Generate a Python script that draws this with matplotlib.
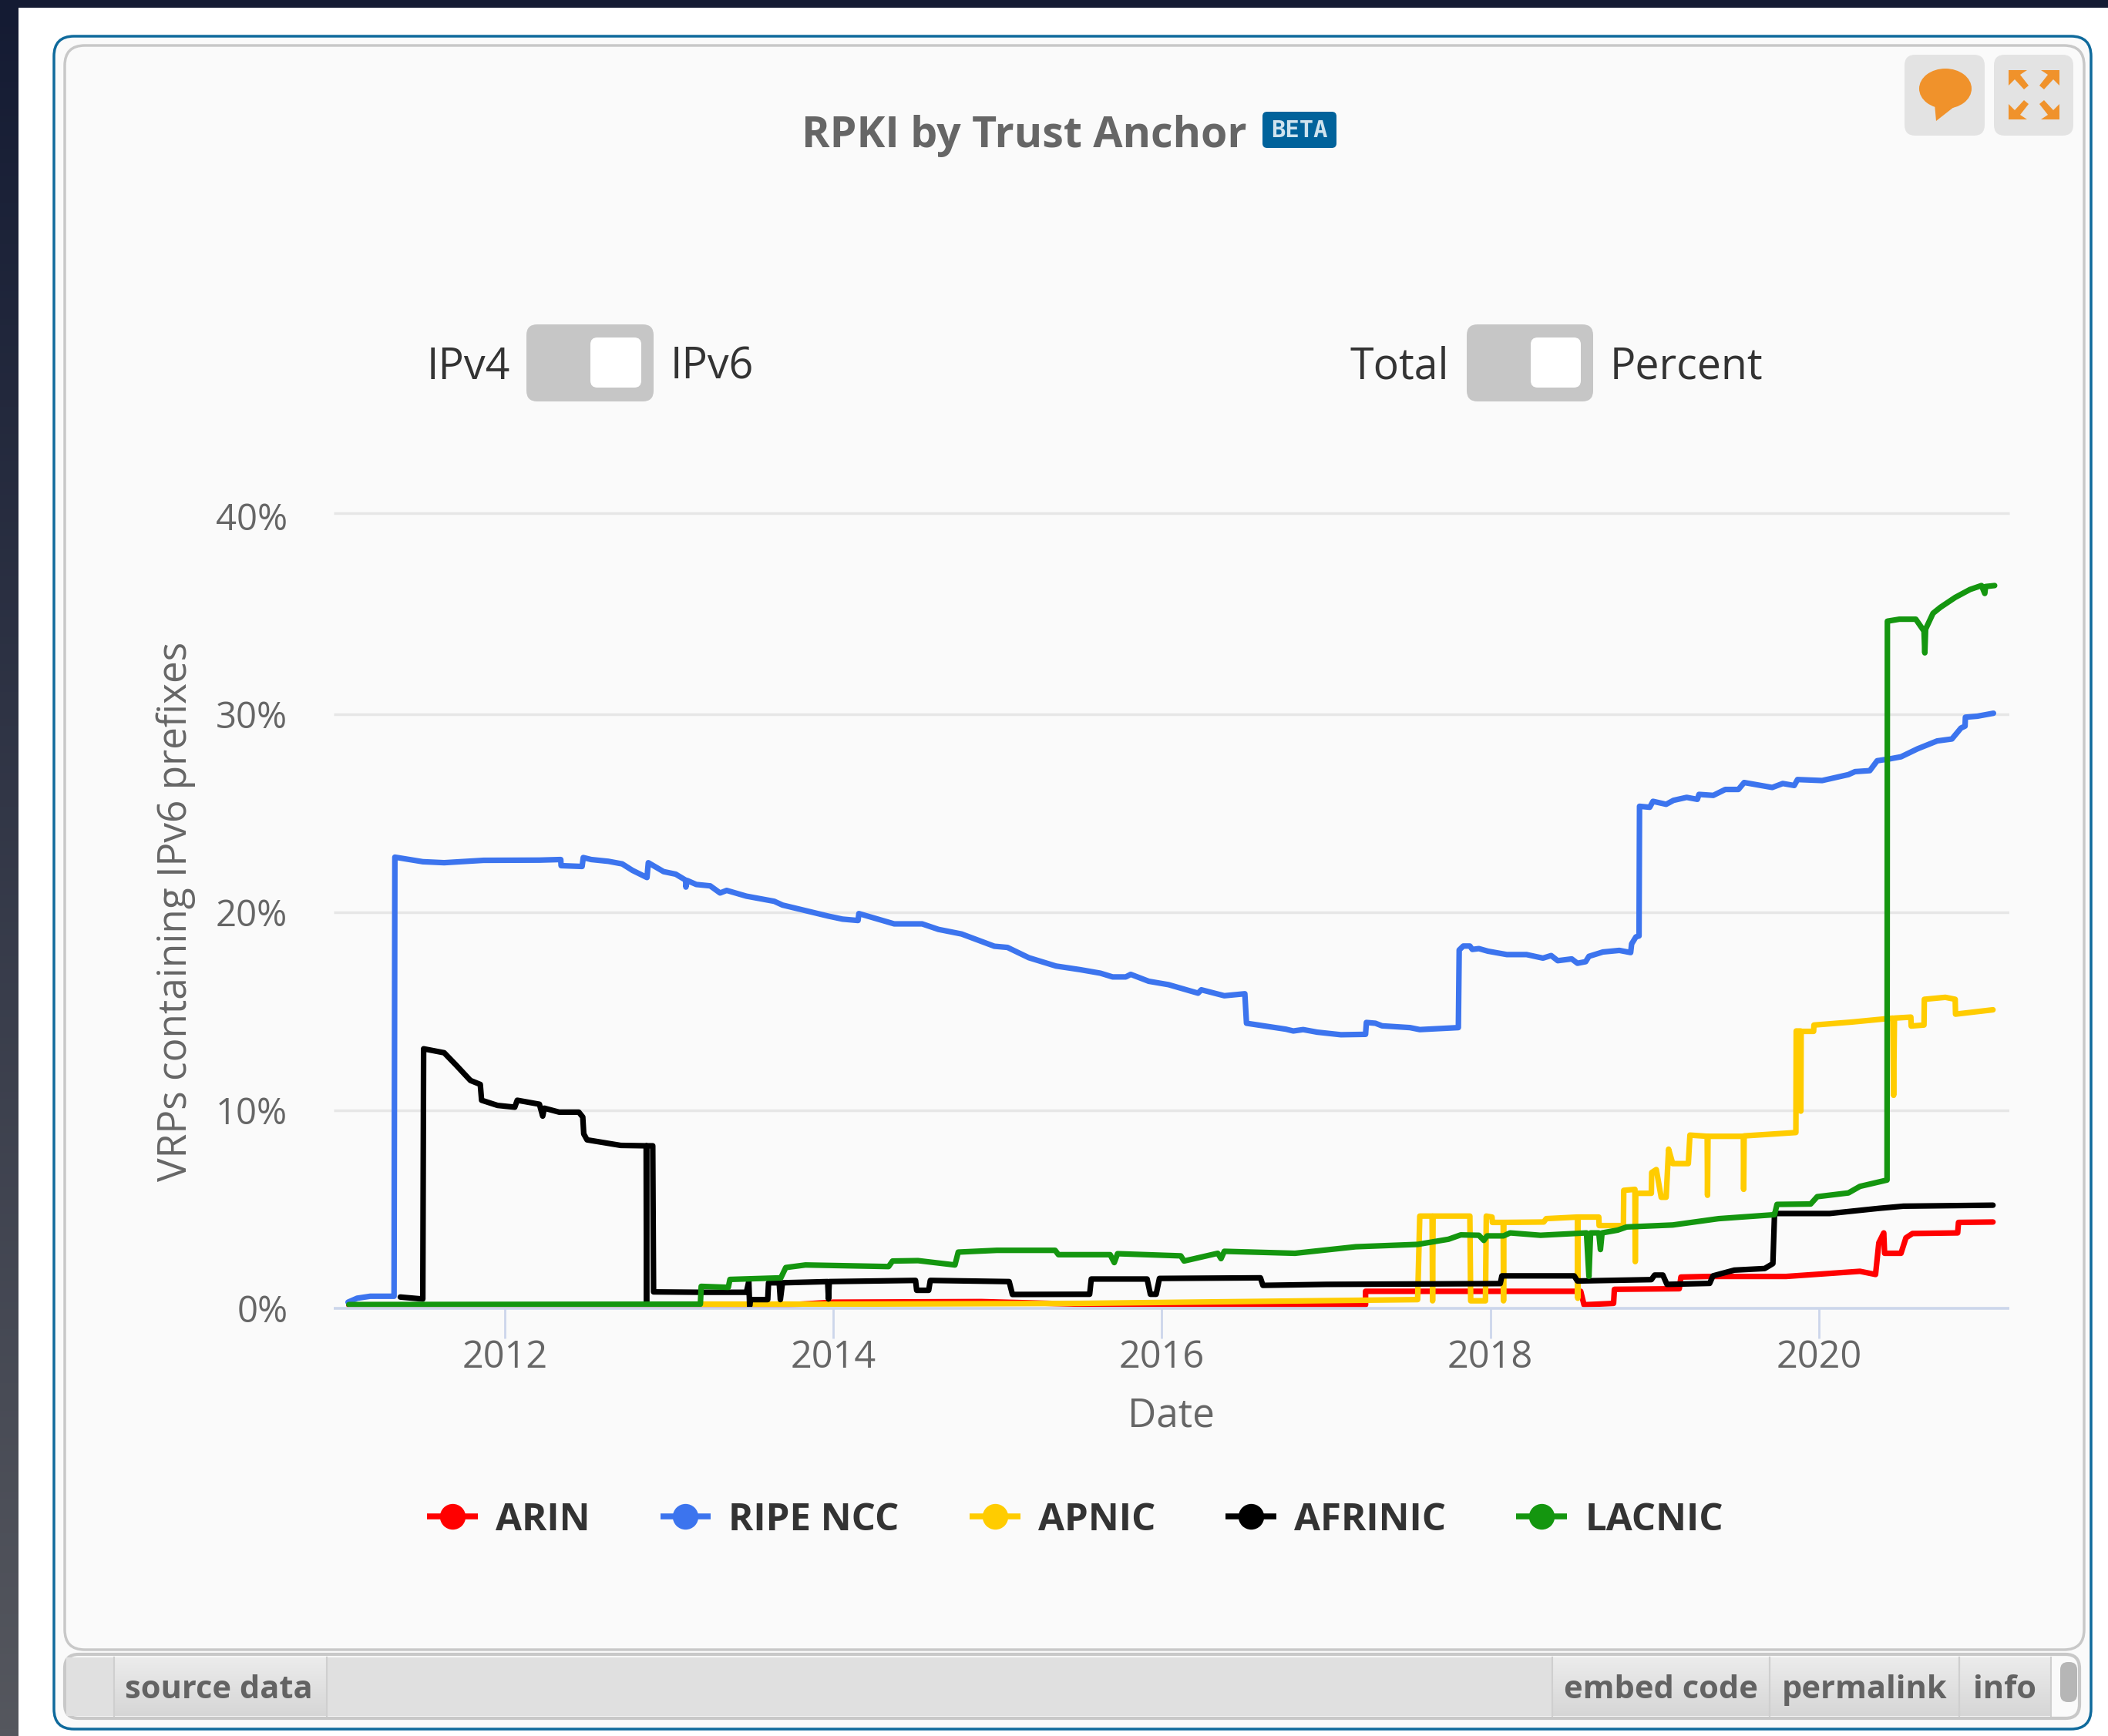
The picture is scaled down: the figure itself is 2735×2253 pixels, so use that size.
import matplotlib
matplotlib.use('Agg')
import matplotlib.pyplot as plt
import numpy as np
from matplotlib.lines import Line2D
from matplotlib.patches import FancyBboxPatch, Rectangle, Ellipse, Polygon

plt.rcParams['font.family'] = ['Open Sans', 'DejaVu Sans']

# values: (decimal year, percent)
arin_x = [2011.05, 2013.7, 2014.0, 2014.9, 2015.5, 2017.24, 2017.24, 2018.55, 2018.57, 2018.75, 2018.755, 2019.15, 2019.16,
          2019.32, 2019.8, 2020.25, 2020.345, 2020.365, 2020.395, 2020.4, 2020.5, 2020.53, 2020.57, 2020.845, 2020.85, 2021.06]
arin_y = [0.15, 0.15, 0.3, 0.33, 0.2, 0.17, 0.85, 0.85, 0.17, 0.24, 0.95, 0.98, 1.57,
          1.6, 1.6, 1.86, 1.7, 3.3, 3.8, 2.77, 2.77, 3.55, 3.77, 3.8, 4.33, 4.35]

ripe_x = [2011.045, 2011.1, 2011.18, 2011.325, 2011.33, 2011.5, 2011.63, 2011.87, 2012.21, 2012.34, 2012.342, 2012.47, 2012.477,
          2012.525, 2012.63, 2012.714, 2012.777, 2012.865, 2012.873, 2012.966, 2013.04, 2013.1, 2013.102, 2013.11, 2013.165,
          2013.25, 2013.31, 2013.35, 2013.47, 2013.64, 2013.69, 2013.87, 2013.97, 2014.055, 2014.15, 2014.155, 2014.37,
          2014.54, 2014.64, 2014.78, 2014.98, 2015.06, 2015.19, 2015.355, 2015.5, 2015.625, 2015.7, 2015.78, 2015.81,
          2015.92, 2016.04, 2016.22, 2016.24, 2016.38, 2016.505, 2016.515, 2016.755, 2016.8, 2016.86, 2016.945, 2017.09,
          2017.24, 2017.245, 2017.3, 2017.34, 2017.51, 2017.57, 2017.805, 2017.81, 2017.835, 2017.875, 2017.89, 2017.93,
          2017.985, 2018.1, 2018.22, 2018.32, 2018.37, 2018.41, 2018.495, 2018.53, 2018.58, 2018.6, 2018.685, 2018.785,
          2018.854, 2018.86, 2018.886, 2018.905, 2018.908, 2018.97, 2018.99, 2019.07, 2019.115, 2019.195, 2019.26,
          2019.27, 2019.357, 2019.43, 2019.51, 2019.545, 2019.716, 2019.78, 2019.85, 2019.87, 2020.02, 2020.18, 2020.22,
          2020.31, 2020.355, 2020.435, 2020.5, 2020.6, 2020.72, 2020.81, 2020.865, 2020.89, 2020.892, 2020.965, 2021.063]
ripe_y = [0.3, 0.5, 0.6, 0.6, 22.78, 22.55, 22.5, 22.62, 22.63, 22.66, 22.35, 22.31, 22.76,
          22.66, 22.57, 22.44, 22.11, 21.75, 22.5, 22.05, 21.92, 21.62, 21.27, 21.6, 21.4,
          21.33, 20.97, 21.1, 20.81, 20.55, 20.36, 20.0, 19.8, 19.65, 19.58, 19.93, 19.41,
          19.41, 19.13, 18.9, 18.28, 18.22, 17.7, 17.28, 17.1, 16.92, 16.73, 16.73, 16.86,
          16.51, 16.34, 15.91, 16.08, 15.78, 15.88, 14.39, 14.09, 14.0, 14.07, 13.94, 13.81,
          13.83, 14.43, 14.39, 14.26, 14.17, 14.07, 14.17, 18.09, 18.29, 18.29, 18.12, 18.16,
          18.03, 17.86, 17.86, 17.68, 17.81, 17.55, 17.64, 17.42, 17.5, 17.77, 17.99, 18.07,
          17.96, 18.4, 18.75, 18.8, 25.35, 25.3, 25.6, 25.45, 25.65, 25.8, 25.7,
          25.95, 25.9, 26.2, 26.2, 26.55, 26.3, 26.5, 26.4, 26.7, 26.65, 26.95, 27.1,
          27.15, 27.65, 27.75, 27.85, 28.25, 28.65, 28.75, 29.3, 29.4, 29.85, 29.9, 30.05]

apnic_x = [2013.2, 2014.0, 2015.5, 2017.557, 2017.57, 2017.645, 2017.648, 2017.651, 2017.875, 2017.88, 2017.97, 2017.975, 2018.01,
           2018.012, 2018.078, 2018.08, 2018.082, 2018.325, 2018.34, 2018.53, 2018.532, 2018.534, 2018.66, 2018.662, 2018.81, 2018.812,
           2018.88, 2018.882, 2018.885, 2018.98, 2018.982, 2019.01, 2019.04, 2019.07, 2019.085, 2019.11, 2019.205, 2019.215,
           2019.32, 2019.322, 2019.325, 2019.54, 2019.542, 2019.545, 2019.86, 2019.862, 2019.888, 2019.89, 2019.892, 2019.968, 2019.97,
           2020.2, 2020.45, 2020.455, 2020.46, 2020.56, 2020.562, 2020.64, 2020.642, 2020.77, 2020.83, 2020.832, 2021.06]
apnic_y = [0.2, 0.2, 0.24, 0.43, 4.65, 4.65, 0.37, 4.65, 4.65, 0.37, 0.37, 4.65, 4.6,
           4.33, 4.33, 0.37, 4.33, 4.35, 4.52, 4.6, 0.5, 4.6, 4.6, 4.17, 4.17, 5.95,
           6.0, 2.35, 5.8, 5.8, 6.85, 7.0, 5.6, 5.6, 8.03, 7.3, 7.3, 8.74,
           8.68, 5.7, 8.68, 8.68, 6.0, 8.7, 8.87, 14.0, 14.0, 9.95, 13.98, 13.98, 14.3,
           14.45, 14.65, 10.75, 14.65, 14.7, 14.25, 14.3, 15.6, 15.7, 15.6, 14.85, 15.07]

afrinic_x = [2011.363, 2011.5, 2011.505, 2011.63, 2011.7, 2011.79, 2011.85, 2011.858, 2011.955, 2012.06, 2012.075, 2012.21,
             2012.23, 2012.24, 2012.33, 2012.45, 2012.474, 2012.48, 2012.5, 2012.705, 2012.86, 2012.862, 2012.864, 2012.9,
             2012.905, 2013.2, 2013.47, 2013.485, 2013.49, 2013.495, 2013.6, 2013.605, 2013.67, 2013.677, 2013.69, 2013.965,
             2013.97, 2013.975, 2014.5, 2014.507, 2014.58, 2014.59, 2015.07, 2015.09, 2015.5, 2015.56, 2015.57, 2015.91,
             2015.93, 2015.965, 2015.985, 2016.6, 2016.615, 2017.0, 2018.06, 2018.07, 2018.51, 2018.53, 2018.98, 2019.0,
             2019.05, 2019.075, 2019.335, 2019.355, 2019.485, 2019.67, 2019.72, 2019.73, 2020.065, 2020.365, 2020.515, 2021.06]
afrinic_y = [0.56, 0.46, 13.1, 12.9, 12.3, 11.5, 11.3, 10.5, 10.24, 10.15, 10.5, 10.3,
             9.7, 10.1, 9.9, 9.9, 9.65, 8.8, 8.5, 8.22, 8.2, 0.3, 8.2, 8.2,
             0.82, 0.8, 0.8, 1.35, 0.1, 0.43, 0.43, 1.28, 1.28, 0.43, 1.28, 1.34,
             0.46, 1.34, 1.4, 0.9, 0.9, 1.4, 1.34, 0.69, 0.7, 0.7, 1.47, 1.47,
             0.7, 0.7, 1.5, 1.53, 1.15, 1.2, 1.24, 1.63, 1.63, 1.37, 1.44, 1.67,
             1.67, 1.2, 1.25, 1.63, 1.92, 2.0, 2.25, 4.78, 4.78, 5.04, 5.15, 5.2]

lacnic_x = [2011.05, 2013.19, 2013.195, 2013.36, 2013.37, 2013.68, 2013.71, 2013.83, 2014.336, 2014.36, 2014.515, 2014.74,
            2014.76, 2014.995, 2015.35, 2015.37, 2015.685, 2015.71, 2015.73, 2016.115, 2016.135, 2016.34, 2016.36, 2016.38,
            2016.81, 2017.18, 2017.557, 2017.745, 2017.82, 2017.93, 2017.96, 2017.98, 2018.08, 2018.12, 2018.305, 2018.585,
            2018.6, 2018.61, 2018.66, 2018.67, 2018.68, 2018.775, 2018.83, 2019.11, 2019.39, 2019.73, 2019.745, 2019.95,
            2019.99, 2020.18, 2020.25, 2020.415, 2020.417, 2020.49, 2020.59, 2020.64, 2020.645, 2020.65, 2020.695, 2020.74,
            2020.83, 2020.92, 2020.99, 2021.01, 2021.015, 2021.07]
lacnic_y = [0.18, 0.2, 1.1, 1.05, 1.45, 1.53, 2.05, 2.18, 2.1, 2.38, 2.4, 2.18,
            2.83, 2.92, 2.92, 2.7, 2.7, 2.3, 2.75, 2.64, 2.38, 2.77, 2.5, 2.87,
            2.77, 3.1, 3.22, 3.48, 3.7, 3.68, 3.42, 3.65, 3.65, 3.8, 3.68, 3.8,
            1.6, 3.8, 3.8, 2.96, 3.8, 3.94, 4.1, 4.2, 4.52, 4.72, 5.24, 5.26,
            5.63, 5.82, 6.15, 6.47, 34.7, 34.8, 34.8, 34.2, 33.1, 34.3, 35.1, 35.4,
            35.9, 36.3, 36.5, 36.1, 36.45, 36.5]

series_names = ['ARIN', 'RIPE NCC', 'APNIC', 'AFRINIC', 'LACNIC']
series_x = [arin_x, ripe_x, apnic_x, afrinic_x, lacnic_x]
series_y = [arin_y, ripe_y, apnic_y, afrinic_y, lacnic_y]
series_colors = ['#ff0000', '#3c74ee', '#ffcc00', '#000000', '#14960f']

x_ticks = [2012, 2014, 2016, 2018, 2020]
y_ticks = [0, 10, 20, 30, 40]
y_tick_labels = ['0%', '10%', '20%', '30%', '40%']

W, H = 2735, 2253
fig = plt.figure(figsize=(W / 100, H / 100), dpi=100, facecolor='white')


def rounded(a, x0, y0, x1, y1, r, **kw):
    a.add_patch(FancyBboxPatch((x0, y0), x1 - x0, y1 - y0,
                               boxstyle='round,pad=0,rounding_size=%g' % r, **kw))


def gradient(a, x0, y0, x1, y1, top, bottom):
    c0 = np.array(matplotlib.colors.to_rgb(top))
    c1 = np.array(matplotlib.colors.to_rgb(bottom))
    ramp = np.linspace(0, 1, 256)[:, None, None]
    a.imshow(c0 + (c1 - c0) * ramp, extent=(x0, x1, y1, y0), aspect='auto', zorder=1.5)


# page furniture in pixel coordinates
ui = fig.add_axes([0, 0, 1, 1], zorder=0)
ui.axis('off')

ui.add_patch(Rectangle((0, 0), W, 10, facecolor='#141b33', edgecolor='none'))
gradient(ui, 0, 0, 24, H, '#141b33', '#55575e')

rounded(ui, 70, 47, 2713, 2244, 26, facecolor='#fafafa', edgecolor='#0f6a9c', linewidth=2.5)
rounded(ui, 84, 59, 2704, 2141, 26, facecolor='#fafafa', edgecolor='#c8c8c8', linewidth=2.5)

# bottom toolbar
rounded(ui, 84, 2147, 2698, 2230, 18, facecolor='#fafafa', edgecolor='#c8c8c8', linewidth=3)
ui.add_patch(Rectangle((86, 2151), 2575, 76, facecolor='#e0e0e0', edgecolor='none', zorder=1.2))
for x0, x1 in [(148, 424), (2014, 2296), (2296, 2542), (2542, 2661)]:
    gradient(ui, x0, 2151, x1, 2227, '#ececec', '#d6d6d6')
    ui.plot([x0, x0], [2151, 2227], color='#cfcfcf', lw=1.5, zorder=1.6)
    ui.plot([x1, x1], [2151, 2227], color='#cfcfcf', lw=1.5, zorder=1.6)
rounded(ui, 2673, 2157, 2695, 2209, 10, facecolor='#b6b6b6', edgecolor='none', zorder=2)

tab_font = dict(fontsize=30, fontweight='bold', color='#636363', ha='center', va='center', zorder=3)
ui.text(284, 2194, 'source data', **tab_font)
ui.text(2155, 2194, 'embed code', **tab_font)
ui.text(2419, 2194, 'permalink', **tab_font)
ui.text(2601, 2194, 'info', **tab_font)

# title and badge
ui.text(1329, 176, 'RPKI by Trust Anchor', fontsize=40, fontweight='bold', color='#666666',
        ha='center', va='center')
rounded(ui, 1638, 145, 1734, 192, 6, facecolor='#00629b', edgecolor='none')
ui.text(1686, 169, 'BETA', fontsize=22, fontweight='bold', color='#cfe3ee', ha='center', va='center',
        family='DejaVu Sans Mono')

# top right buttons
rounded(ui, 2471, 71, 2575, 176, 14, facecolor='#e3e3e3', edgecolor='none')
rounded(ui, 2587, 71, 2690, 176, 14, facecolor='#e3e3e3', edgecolor='none')
ui.add_patch(Ellipse((2524, 115), 68, 52, facecolor='#f0922b', edgecolor='none', zorder=2))
ui.add_patch(Polygon([(2510, 135), (2512, 157), (2540, 135)], facecolor='#f0922b', edgecolor='none', zorder=2))
arrow = np.array([(0, 0), (24, 0), (15, 6), (26, 20), (20, 25), (8, 12), (0, 20)], dtype=float)
for cx, cy, sx, sy in [(2606, 91, 1, 1), (2672, 91, -1, 1), (2606, 155, 1, -1), (2672, 155, -1, -1)]:
    ui.add_patch(Polygon(arrow * [sx, sy] + [cx, cy], facecolor='#f0922b', edgecolor='none', zorder=2))

# the two switches
for x0, x1, k0, k1 in [(683, 848, 766, 832), (1903, 2067, 1986, 2051)]:
    rounded(ui, x0, 421, x1, 521, 14, facecolor='#c6c6c6', edgecolor='none')
    rounded(ui, k0, 438, k1, 503, 9, facecolor='white', edgecolor='none', zorder=2)
switch_font = dict(fontsize=40, color='#333333', va='center')
ui.text(662, 477, 'IPv4', ha='right', **switch_font)
ui.text(870, 477, 'IPv6', ha='left', **switch_font)
ui.text(1880, 477, 'Total', ha='right', **switch_font)
ui.text(2089, 477, 'Percent', ha='left', **switch_font)

ui.set_xlim(0, W)
ui.set_ylim(H, 0)

# the chart itself
left, right, top, bottom = 433, 2606.6, 670, 1697.7
ax = fig.add_axes([left / W, 1 - bottom / H, (right - left) / W, (bottom - top) / H], zorder=1)
ax.patch.set_alpha(0)

for x, y, name, color in zip(series_x, series_y, series_names, series_colors):
    ax.plot(x, y, color=color, lw=5.2, label=name, solid_joinstyle='round', solid_capstyle='round',
            clip_on=False)

ax.set_xlim(2012 - (655 - left) / 213, 2020 + (right - 2360) / 213)
ax.set_ylim(0, 40)
ax.set_xticks(x_ticks)
ax.set_xticklabels([str(t) for t in x_ticks])
ax.set_yticks(y_ticks)
ax.set_yticklabels(y_tick_labels)

for side in ['top', 'left', 'right']:
    ax.spines[side].set_visible(False)
ax.spines['bottom'].set_color('#ccd6eb')
ax.spines['bottom'].set_linewidth(2.6)
ax.spines['bottom'].set_capstyle('butt')
ax.grid(axis='y', color='#e6e6e6', linewidth=2.5, solid_capstyle='butt')
ax.set_axisbelow(True)
ax.tick_params(axis='x', length=28, width=2, color='#ccd6eb', labelsize=35, labelcolor='#666666', pad=1)
ax.tick_params(axis='y', length=0, labelsize=34, labelcolor='#666666', pad=43)

# the top gridline sits a few pixels above its label in the reference
ax.yaxis.get_gridlines()[-1].set_visible(False)
ax.axhline(40.14, color='#e6e6e6', linewidth=2.5, zorder=0.5, clip_on=False, solid_capstyle='butt')

ax.set_xlabel('Date', fontsize=37, color='#666666')
ax.xaxis.set_label_coords(0.5, 1 - (1838 - top) / (bottom - top), transform=ax.transAxes)
ax.xaxis.label.set_va('center')
ax.set_ylabel('VRPs containing IPv6 prefixes', fontsize=37, color='#666666')
ax.yaxis.set_label_coords((228 - left) / (right - left), 1 - (1183 - top) / (bottom - top), transform=ax.transAxes)
ax.yaxis.label.set_va('center')

handles = [Line2D([], [], color=c, lw=5.5, marker='o', markersize=24, markeredgecolor='none',
                  solid_capstyle='butt') for c in series_colors]
leg = ax.legend(handles, series_names, loc='center', bbox_to_anchor=(1395 / W, 1 - 1973 / H),
                bbox_transform=fig.transFigure, ncol=5, frameon=False, fontsize=35.5,
                handlelength=1.33, handletextpad=0.47, columnspacing=1.85, borderpad=0)
for t in leg.get_texts():
    t.set_color('#333333')
    t.set_fontweight('bold')

fig.savefig('out.png', dpi=100)
plt.close(fig)
